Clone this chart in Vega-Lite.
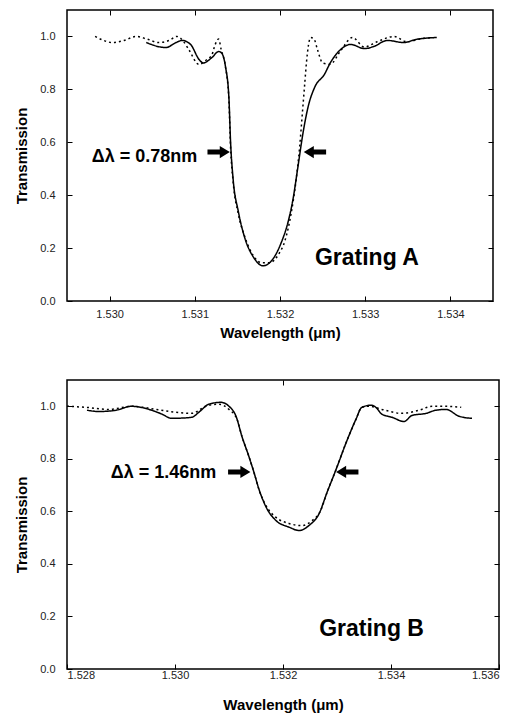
{
  "$schema": "https://vega.github.io/schema/vega-lite/v6.json",
  "padding": {"top": 8, "left": 13, "right": 10, "bottom": 5},
  "background": "white",
  "spacing": 37,
  "datasets": {
    "curves": [
      {"g":"A","s":"meas","x":1.53043,"y":0.977},{"g":"A","s":"meas","x":1.53066,"y":0.958},{"g":"A","s":"meas","x":1.53078,"y":0.977},{"g":"A","s":"meas","x":1.53085,"y":0.985},{"g":"A","s":"meas","x":1.53095,"y":0.97},{"g":"A","s":"meas","x":1.53105,"y":0.913},{"g":"A","s":"meas","x":1.53110,"y":0.90},{"g":"A","s":"meas","x":1.53120,"y":0.92},{"g":"A","s":"meas","x":1.53128,"y":0.943},{"g":"A","s":"meas","x":1.53131,"y":0.939},{"g":"A","s":"meas","x":1.53136,"y":0.886},{"g":"A","s":"meas","x":1.53140,"y":0.77},{"g":"A","s":"meas","x":1.53142,"y":0.60},{"g":"A","s":"meas","x":1.53145,"y":0.46},{"g":"A","s":"meas","x":1.53151,"y":0.34},{"g":"A","s":"meas","x":1.53159,"y":0.235},{"g":"A","s":"meas","x":1.53169,"y":0.165},{"g":"A","s":"meas","x":1.53180,"y":0.133},{"g":"A","s":"meas","x":1.53192,"y":0.16},{"g":"A","s":"meas","x":1.53201,"y":0.217},{"g":"A","s":"meas","x":1.53209,"y":0.293},{"g":"A","s":"meas","x":1.53215,"y":0.38},{"g":"A","s":"meas","x":1.53221,"y":0.506},{"g":"A","s":"meas","x":1.53227,"y":0.635},{"g":"A","s":"meas","x":1.53233,"y":0.734},{"g":"A","s":"meas","x":1.53241,"y":0.81},{"g":"A","s":"meas","x":1.53252,"y":0.856},{"g":"A","s":"meas","x":1.53259,"y":0.90},{"g":"A","s":"meas","x":1.53271,"y":0.95},{"g":"A","s":"meas","x":1.53283,"y":0.97},{"g":"A","s":"meas","x":1.53299,"y":0.954},{"g":"A","s":"meas","x":1.53310,"y":0.962},{"g":"A","s":"meas","x":1.53326,"y":0.985},{"g":"A","s":"meas","x":1.53345,"y":0.977},{"g":"A","s":"meas","x":1.53360,"y":0.989},{"g":"A","s":"meas","x":1.53384,"y":0.996},
      {"g":"A","s":"theo","x":1.52983,"y":1.0},{"g":"A","s":"theo","x":1.52993,"y":0.985},{"g":"A","s":"theo","x":1.53003,"y":0.977},{"g":"A","s":"theo","x":1.53017,"y":0.985},{"g":"A","s":"theo","x":1.53031,"y":1.0},{"g":"A","s":"theo","x":1.53044,"y":0.99},{"g":"A","s":"theo","x":1.53058,"y":0.977},{"g":"A","s":"theo","x":1.53070,"y":0.985},{"g":"A","s":"theo","x":1.53079,"y":1.0},{"g":"A","s":"theo","x":1.53087,"y":0.98},{"g":"A","s":"theo","x":1.53093,"y":0.95},{"g":"A","s":"theo","x":1.53105,"y":0.894},{"g":"A","s":"theo","x":1.53113,"y":0.91},{"g":"A","s":"theo","x":1.53120,"y":0.93},{"g":"A","s":"theo","x":1.53124,"y":0.97},{"g":"A","s":"theo","x":1.53128,"y":0.99},{"g":"A","s":"theo","x":1.53131,"y":0.95},{"g":"A","s":"theo","x":1.53136,"y":0.886},{"g":"A","s":"theo","x":1.53140,"y":0.76},{"g":"A","s":"theo","x":1.53142,"y":0.58},{"g":"A","s":"theo","x":1.53145,"y":0.45},{"g":"A","s":"theo","x":1.53151,"y":0.33},{"g":"A","s":"theo","x":1.53159,"y":0.24},{"g":"A","s":"theo","x":1.53169,"y":0.17},{"g":"A","s":"theo","x":1.53178,"y":0.145},{"g":"A","s":"theo","x":1.53188,"y":0.145},{"g":"A","s":"theo","x":1.53198,"y":0.175},{"g":"A","s":"theo","x":1.53206,"y":0.23},{"g":"A","s":"theo","x":1.53213,"y":0.33},{"g":"A","s":"theo","x":1.53219,"y":0.46},{"g":"A","s":"theo","x":1.53223,"y":0.58},{"g":"A","s":"theo","x":1.53226,"y":0.70},{"g":"A","s":"theo","x":1.53229,"y":0.82},{"g":"A","s":"theo","x":1.53231,"y":0.90},{"g":"A","s":"theo","x":1.53236,"y":0.996},{"g":"A","s":"theo","x":1.53240,"y":0.99},{"g":"A","s":"theo","x":1.53244,"y":0.95},{"g":"A","s":"theo","x":1.53250,"y":0.90},{"g":"A","s":"theo","x":1.53259,"y":0.895},{"g":"A","s":"theo","x":1.53271,"y":0.945},{"g":"A","s":"theo","x":1.53285,"y":0.996},{"g":"A","s":"theo","x":1.53299,"y":0.96},{"g":"A","s":"theo","x":1.53314,"y":0.98},{"g":"A","s":"theo","x":1.53334,"y":1.0},{"g":"A","s":"theo","x":1.53349,"y":0.98},{"g":"A","s":"theo","x":1.53364,"y":0.99},{"g":"A","s":"theo","x":1.53380,"y":0.996},
      {"g":"B","s":"meas","x":1.52837,"y":0.985},{"g":"B","s":"meas","x":1.52859,"y":0.98},{"g":"B","s":"meas","x":1.52891,"y":0.985},{"g":"B","s":"meas","x":1.52919,"y":1.0},{"g":"B","s":"meas","x":1.52952,"y":0.988},{"g":"B","s":"meas","x":1.52976,"y":0.97},{"g":"B","s":"meas","x":1.52994,"y":0.954},{"g":"B","s":"meas","x":1.53031,"y":0.958},{"g":"B","s":"meas","x":1.53044,"y":0.977},{"g":"B","s":"meas","x":1.53063,"y":1.008},{"g":"B","s":"meas","x":1.53085,"y":1.015},{"g":"B","s":"meas","x":1.53100,"y":1.0},{"g":"B","s":"meas","x":1.53113,"y":0.962},{"g":"B","s":"meas","x":1.53124,"y":0.885},{"g":"B","s":"meas","x":1.53137,"y":0.808},{"g":"B","s":"meas","x":1.53146,"y":0.75},{"g":"B","s":"meas","x":1.53156,"y":0.681},{"g":"B","s":"meas","x":1.53169,"y":0.615},{"g":"B","s":"meas","x":1.53187,"y":0.565},{"g":"B","s":"meas","x":1.53211,"y":0.54},{"g":"B","s":"meas","x":1.53230,"y":0.527},{"g":"B","s":"meas","x":1.53248,"y":0.546},{"g":"B","s":"meas","x":1.53267,"y":0.592},{"g":"B","s":"meas","x":1.53281,"y":0.669},{"g":"B","s":"meas","x":1.53298,"y":0.758},{"g":"B","s":"meas","x":1.53317,"y":0.862},{"g":"B","s":"meas","x":1.53335,"y":0.95},{"g":"B","s":"meas","x":1.53346,"y":0.996},{"g":"B","s":"meas","x":1.53363,"y":1.004},{"g":"B","s":"meas","x":1.53372,"y":0.996},{"g":"B","s":"meas","x":1.53383,"y":0.97},{"g":"B","s":"meas","x":1.53402,"y":0.958},{"g":"B","s":"meas","x":1.53424,"y":0.942},{"g":"B","s":"meas","x":1.53439,"y":0.965},{"g":"B","s":"meas","x":1.53465,"y":0.973},{"g":"B","s":"meas","x":1.53483,"y":0.985},{"g":"B","s":"meas","x":1.53502,"y":0.988},{"g":"B","s":"meas","x":1.53526,"y":0.962},{"g":"B","s":"meas","x":1.53550,"y":0.954},
      {"g":"B","s":"theo","x":1.52800,"y":1.0},{"g":"B","s":"theo","x":1.52835,"y":0.996},{"g":"B","s":"theo","x":1.52878,"y":0.988},{"g":"B","s":"theo","x":1.52920,"y":1.0},{"g":"B","s":"theo","x":1.52965,"y":0.988},{"g":"B","s":"theo","x":1.53002,"y":0.977},{"g":"B","s":"theo","x":1.53031,"y":0.973},{"g":"B","s":"theo","x":1.53057,"y":1.0},{"g":"B","s":"theo","x":1.53081,"y":1.008},{"g":"B","s":"theo","x":1.53100,"y":0.988},{"g":"B","s":"theo","x":1.53115,"y":0.95},{"g":"B","s":"theo","x":1.53124,"y":0.885},{"g":"B","s":"theo","x":1.53137,"y":0.808},{"g":"B","s":"theo","x":1.53146,"y":0.75},{"g":"B","s":"theo","x":1.53156,"y":0.68},{"g":"B","s":"theo","x":1.53169,"y":0.62},{"g":"B","s":"theo","x":1.53187,"y":0.577},{"g":"B","s":"theo","x":1.53211,"y":0.554},{"g":"B","s":"theo","x":1.53235,"y":0.546},{"g":"B","s":"theo","x":1.53254,"y":0.565},{"g":"B","s":"theo","x":1.53270,"y":0.604},{"g":"B","s":"theo","x":1.53281,"y":0.669},{"g":"B","s":"theo","x":1.53298,"y":0.758},{"g":"B","s":"theo","x":1.53317,"y":0.862},{"g":"B","s":"theo","x":1.53335,"y":0.95},{"g":"B","s":"theo","x":1.53346,"y":0.996},{"g":"B","s":"theo","x":1.53359,"y":1.0},{"g":"B","s":"theo","x":1.53383,"y":0.988},{"g":"B","s":"theo","x":1.53420,"y":0.973},{"g":"B","s":"theo","x":1.53452,"y":0.985},{"g":"B","s":"theo","x":1.53476,"y":1.0},{"g":"B","s":"theo","x":1.53502,"y":1.0},{"g":"B","s":"theo","x":1.53530,"y":0.996}
    ],
    "labels": [
      {"g":"A","t":"Δλ = 0.78nm","x":1.52979,"y":0.545,"k":"d"},
      {"g":"A","t":"Grating A","x":1.53241,"y":0.162,"k":"g"},
      {"g":"B","t":"Δλ = 1.46nm","x":1.52881,"y":0.746,"k":"d"},
      {"g":"B","t":"Grating B","x":1.53267,"y":0.154,"k":"g"}
    ],
    "arrows": [
      {"g":"A","d":"right","x":1.53128,"y":0.563},
      {"g":"A","d":"left","x":1.53241,"y":0.563},
      {"g":"B","d":"right","x":1.53119,"y":0.75},
      {"g":"B","d":"left","x":1.53319,"y":0.75}
    ]
  },
  "config": {
    "font": "Liberation Sans",
    "view": {"stroke": "black", "strokeWidth": 1.5},
    "axis": {
      "domain": false,
      "grid": false,
      "tickColor": "black",
      "tickSize": -5,
      "tickWidth": 1,
      "labelColor": "#222",
      "labelFont": "Liberation Sans",
      "labelFontSize": 11,
      "titleFont": "Liberation Sans",
      "titleFontSize": 15,
      "titleFontWeight": "bold",
      "titleColor": "black"
    }
  },
  "vconcat": [
    {
      "width": 426,
      "height": 291,
      "layer": [
        {
          "data": {"name": "curves"},
          "transform": [{"filter": "datum.g === 'A'"}],
          "mark": {"type": "line", "color": "black", "strokeWidth": 1.5, "interpolate": "monotone", "clip": true},
          "encoding": {
            "x": {"field": "x", "type": "quantitative", "scale": {"domain": [1.5295, 1.5345], "nice": false, "zero": false},
                  "axis": {"values": [1.530, 1.531, 1.532, 1.533, 1.534], "format": ".3f", "labelPadding": 12, "title": "Wavelength (μm)", "titlePadding": 6}},
            "y": {"field": "y", "type": "quantitative", "scale": {"domain": [0, 1.1], "nice": false},
                  "axis": {"values": [0, 0.2, 0.4, 0.6, 0.8, 1.0], "format": ".1f", "labelPadding": 17, "title": "Transmission", "titlePadding": 10}},
            "strokeDash": {"field": "s", "type": "nominal", "scale": {"domain": ["meas", "theo"], "range": [[1, 0], [2, 3]]}, "legend": null},
            "detail": {"field": "s"}
          }
        },
        {
          "data": {"name": "arrows"},
          "transform": [{"filter": "datum.g === 'A' && datum.d === 'right'"}],
          "mark": {"type": "point", "filled": true, "color": "black", "opacity": 1, "size": 500, "shape": "M-1,-0.22 L0.1,-0.22 L0.1,-0.55 L1,0 L0.1,0.55 L0.1,0.22 L-1,0.22 Z"},
          "encoding": {
            "x": {"field": "x", "type": "quantitative", "axis": {"orient": "top", "labels": false, "title": null, "values": [1.530, 1.531, 1.532, 1.533, 1.534]}},
            "y": {"field": "y", "type": "quantitative", "axis": {"orient": "right", "labels": false, "title": null, "values": [0, 0.2, 0.4, 0.6, 0.8, 1.0]}}
          }
        },
        {
          "data": {"name": "arrows"},
          "transform": [{"filter": "datum.g === 'A' && datum.d === 'left'"}],
          "mark": {"type": "point", "filled": true, "color": "black", "opacity": 1, "size": 500, "shape": "M1,-0.22 L-0.1,-0.22 L-0.1,-0.55 L-1,0 L-0.1,0.55 L-0.1,0.22 L1,0.22 Z"},
          "encoding": {
            "x": {"field": "x", "type": "quantitative", "axis": null},
            "y": {"field": "y", "type": "quantitative", "axis": null}
          }
        },
        {
          "data": {"name": "labels"},
          "transform": [{"filter": "datum.g === 'A'"}],
          "mark": {"type": "text", "align": "left", "baseline": "middle", "fontWeight": "bold", "color": "black"},
          "encoding": {
            "x": {"field": "x", "type": "quantitative", "axis": null},
            "y": {"field": "y", "type": "quantitative", "axis": null},
            "text": {"field": "t"},
            "size": {"field": "k", "type": "nominal", "scale": {"domain": ["d", "g"], "range": [18, 23]}, "legend": null}
          }
        }
      ],
      "resolve": {"axis": {"x": "independent", "y": "independent"}}
    },
    {
      "width": 432,
      "height": 289,
      "layer": [
        {
          "data": {"name": "curves"},
          "transform": [{"filter": "datum.g === 'B'"}],
          "mark": {"type": "line", "color": "black", "strokeWidth": 1.5, "interpolate": "monotone", "clip": true},
          "encoding": {
            "x": {"field": "x", "type": "quantitative", "scale": {"domain": [1.528, 1.536], "nice": false, "zero": false},
                  "axis": {"values": [1.528, 1.530, 1.532, 1.534, 1.536], "format": ".3f", "labelPadding": 5, "title": "Wavelength (μm)", "titlePadding": 17}},
            "y": {"field": "y", "type": "quantitative", "scale": {"domain": [0, 1.1], "nice": false},
                  "axis": {"values": [0, 0.2, 0.4, 0.6, 0.8, 1.0], "format": ".1f", "labelPadding": 17, "title": "Transmission", "titlePadding": 10}},
            "strokeDash": {"field": "s", "type": "nominal", "scale": {"domain": ["meas", "theo"], "range": [[1, 0], [2, 3]]}, "legend": null},
            "detail": {"field": "s"}
          }
        },
        {
          "data": {"name": "arrows"},
          "transform": [{"filter": "datum.g === 'B' && datum.d === 'right'"}],
          "mark": {"type": "point", "filled": true, "color": "black", "opacity": 1, "size": 500, "shape": "M-1,-0.22 L0.1,-0.22 L0.1,-0.55 L1,0 L0.1,0.55 L0.1,0.22 L-1,0.22 Z"},
          "encoding": {
            "x": {"field": "x", "type": "quantitative", "axis": {"orient": "top", "labels": false, "title": null, "values": [1.532]}},
            "y": {"field": "y", "type": "quantitative", "axis": {"orient": "right", "labels": false, "title": null, "values": [0, 0.2, 0.4, 0.6, 0.8, 1.0]}}
          }
        },
        {
          "data": {"name": "arrows"},
          "transform": [{"filter": "datum.g === 'B' && datum.d === 'left'"}],
          "mark": {"type": "point", "filled": true, "color": "black", "opacity": 1, "size": 500, "shape": "M1,-0.22 L-0.1,-0.22 L-0.1,-0.55 L-1,0 L-0.1,0.55 L-0.1,0.22 L1,0.22 Z"},
          "encoding": {
            "x": {"field": "x", "type": "quantitative", "axis": null},
            "y": {"field": "y", "type": "quantitative", "axis": null}
          }
        },
        {
          "data": {"name": "labels"},
          "transform": [{"filter": "datum.g === 'B'"}],
          "mark": {"type": "text", "align": "left", "baseline": "middle", "fontWeight": "bold", "color": "black"},
          "encoding": {
            "x": {"field": "x", "type": "quantitative", "axis": null},
            "y": {"field": "y", "type": "quantitative", "axis": null},
            "text": {"field": "t"},
            "size": {"field": "k", "type": "nominal", "scale": {"domain": ["d", "g"], "range": [18, 23]}, "legend": null}
          }
        }
      ],
      "resolve": {"axis": {"x": "independent", "y": "independent"}}
    }
  ]
}
